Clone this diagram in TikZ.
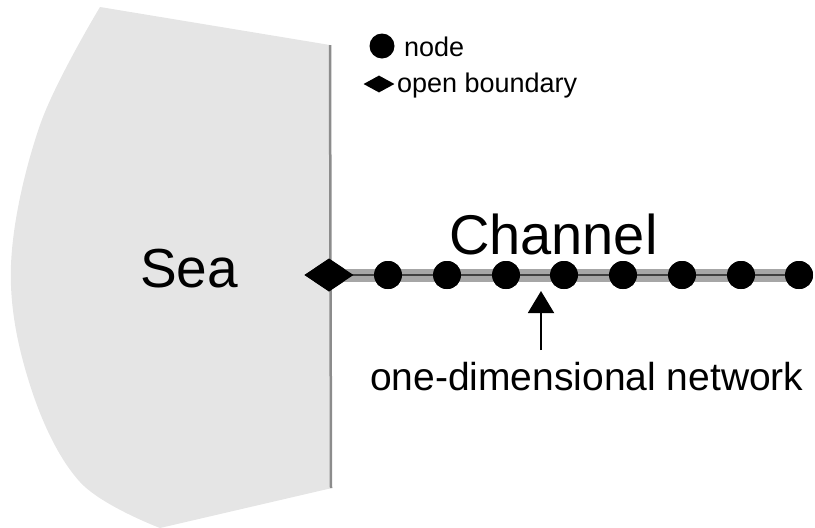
\documentclass[tikz,border=0pt]{standalone}
\usepackage{fontspec}
\setmainfont{Liberation Sans}
\usetikzlibrary{shapes.geometric,arrows.meta}
\begin{document}
\begin{tikzpicture}[x=1pt,y=-1pt,
  netnode/.style={circle,fill=black,inner sep=0pt,minimum size=28pt},
  boundary/.style={diamond,fill=black,inner sep=0pt,minimum width=49pt,minimum height=33pt},
  label/.style={inner sep=0pt,outer sep=0pt,anchor=base west},
  sea/.style={fill=black!10,draw=none},
  channel/.style={line width=13pt,draw=black!35},
  channelcore/.style={line width=1.6pt,draw=black!75}]
  \useasboundingbox (0,0) rectangle (815,528);

  % sea region
  \path[sea] plot[smooth,tension=0.6] coordinates
      {(160,528) (80,482) (30,385) (11,265) (40,125) (100,7)}
    -- (330,45) -- (332,488) -- cycle;
  \draw[black!45,line width=2.5pt] (330,45) -- (331,488);

  % open boundary and network nodes
  \node[boundary] (ob) at (329,275) {};
  \foreach \i/\x in {1/388,2/447,3/506,4/564,5/623,6/682,7/741,8/799}
    \node[netnode] (n\i) at (\x,275) {};

  % channel line
  \draw[channel] (ob.center) -- (n8.center);
  \draw[channelcore] (ob.center) -- (n8.center);
  \node[boundary] at (ob) {};
  \foreach \i/\x in {1/388,2/447,3/506,4/564,5/623,6/682,7/741,8/799}
    \node[netnode] at (n\i) {};

  % labels
  \node[label,font=\fontsize{55}{55}\selectfont] (sealbl) at (140,287) {Sea};
  \node[label,font=\fontsize{56}{56}\selectfont] (chan) at (449,254) {Channel};
  \node[label,font=\fontsize{39}{39}\selectfont] (net) at (370,390) {one-dimensional network};

  % pointer to the network
  \coordinate (tip) at (541,291);
  \coordinate (tail) at (541,350);
  \draw[line width=2pt,-{Triangle[width=26pt,length=22pt]}] (tail) -- (tip);

  % legend
  \node[circle,fill=black,inner sep=0pt,minimum size=25pt] (lgn) at (382,46) {};
  \node[label,font=\fontsize{27}{27}\selectfont] (lgnt) at (404,56) {node};
  \node[diamond,fill=black,inner sep=0pt,minimum width=31pt,minimum height=17pt] (lgb) at (379,84) {};
  \node[label,font=\fontsize{27}{27}\selectfont] (lgbt) at (397,92) {open boundary};
\end{tikzpicture}
\end{document}
